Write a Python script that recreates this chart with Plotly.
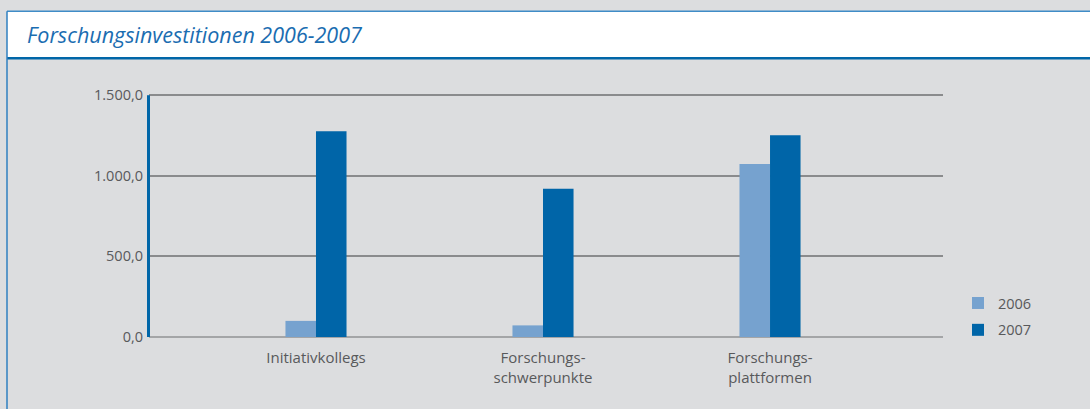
import plotly.graph_objects as go

categories = ["Initiativkollegs", "Forschungs-<br>schwerpunkte", "Forschungs-<br>plattformen"]
years = ["2006", "2007"]
values_2006 = [100, 72, 1073]
values_2007 = [1277, 920, 1252]
y_ticks = [0, 500, 1000, 1500]
y_max = 1500
title_text = "Forschungsinvestitionen 2006-2007"

W, H = 1090, 409
y_top = 1520
L, R, B = 149, 147, 72
T = 95 - (y_top - y_max) * (409 - 95 - 72) / y_max
PW, PH = W - L - R, H - T - B

def px(x):
    return (x - L) / PW

def py(y):
    return (H - B - y) / PH

c2006 = "#76a2cf"
c2007 = "#0065a8"
blue_line = "#0066a8"
grey_text = "#58595b"
FONT = "Open Sans"

fig = go.Figure()
fig.add_trace(go.Bar(x=categories, y=values_2006, name=years[0], marker_color=c2006,
                     marker_line_width=0, legendgroup="a"))
fig.add_trace(go.Bar(x=categories, y=values_2007, name=years[1], marker_color=c2007,
                     marker_line_width=0, legendgroup="b"))

shapes = [
    dict(type="rect", xref="paper", yref="paper", x0=px(7), x1=px(W + 5), y0=py(11), y1=py(57),
         fillcolor="white", line_width=0, layer="below"),
    dict(type="line", xref="paper", yref="paper", x0=px(7), x1=px(W + 5), y0=py(11), y1=py(11),
         line=dict(color="#3f8cc7", width=1.5)),
    dict(type="line", xref="paper", yref="paper", x0=px(7), x1=px(W + 5), y0=py(58), y1=py(58),
         line=dict(color=blue_line, width=2.5)),
    dict(type="line", xref="paper", yref="paper", x0=px(7), x1=px(7), y0=py(11), y1=py(H + 5),
         line=dict(color="#2f7fc0", width=1.5)),
    # y axis line from 0 to the top tick
    dict(type="line", xref="paper", yref="y", x0=px(148.5), x1=px(148.5), y0=0, y1=y_max,
         line=dict(color=blue_line, width=3), layer="above"),
]

fig.update_layout(
    width=W, height=H,
    margin=dict(l=L, r=R, t=T, b=B, pad=0),
    paper_bgcolor="#dcdddf",
    plot_bgcolor="#dcdddf",
    separators=",.",
    barmode="group",
    bargap=0.731,
    bargroupgap=0,
    font=dict(family=FONT, color=grey_text, size=14),
    shapes=shapes,
    annotations=[
        dict(text=title_text, xref="paper", yref="paper", x=px(25), y=py(34),
             xanchor="left", yanchor="middle", showarrow=False,
             font=dict(family=FONT, size=21.5, color="#1b6db1", style="italic")),
    ],
    xaxis=dict(
        type="category",
        range=[-0.7356, 2.762],
        showgrid=False, showline=False, zeroline=False,
        ticks="", tickfont=dict(size=15, color=grey_text),
        ticklabelstandoff=10,
    ),
    yaxis=dict(
        range=[0, y_top],
        tickvals=y_ticks,
        tickformat=",.1f",
        showgrid=True, gridcolor="#8a8b8d", gridwidth=1.5,
        zeroline=True, zerolinecolor="#a4a5a7", zerolinewidth=2,
        showline=False,
        ticks="", tickfont=dict(size=14.5, color=grey_text),
        ticklabelstandoff=5,
    ),
    legend=dict(
        x=px(958), y=py(287), xanchor="left", yanchor="top",
        bgcolor="rgba(0,0,0,0)", font=dict(size=14.5, color=grey_text),
        traceorder="grouped", tracegroupgap=5,
        itemwidth=30,
    ),
    showlegend=True,
)

fig.write_html("out.html", config={"displayModeBar": False},
               post_script="document.body.style.margin='0';")
